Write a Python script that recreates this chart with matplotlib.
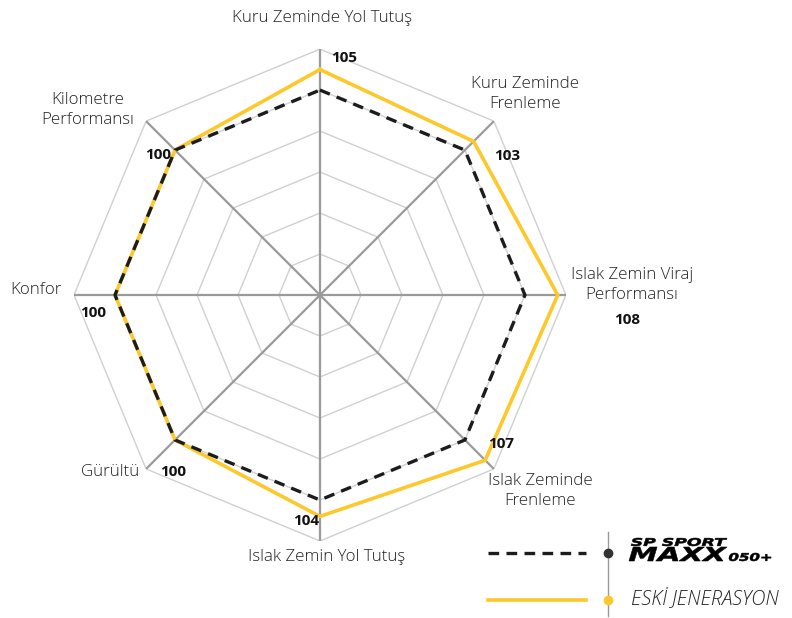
import numpy as np
import matplotlib
matplotlib.use("Agg")
import matplotlib.pyplot as plt
from matplotlib.textpath import TextPath
from matplotlib.font_manager import FontProperties
from matplotlib.patches import PathPatch
from matplotlib.transforms import Affine2D

# categories clockwise from the top
categories = ["Kuru Zeminde Yol Tutuş", "Kuru Zeminde\nFrenleme",
              "Islak Zemin Viraj\nPerformansı", "Islak Zeminde\nFrenleme",
              "Islak Zemin Yol Tutuş", "Gürültü", "Konfor",
              "Kilometre\nPerformansı"]
new_values = [100, 100, 100, 100, 100, 100, 100, 100]
old_values = [105, 103, 108, 107, 104, 100, 100, 100]
value_labels = ["105", "103", "108", "107", "104", "100", "100", "100"]
rings = [60, 70, 80, 90, 100, 110]

# label offsets from each outer vertex, in pixels
cat_offsets = [(2, 31), (31, 27), (66, 10), (46, -22), (7, -16), (-36, -3), (-38, 5), (-58, 11)]
val_offsets = [(24, -9), (13, -35), (61, -25), (7, 25), (-14, 20), (27, -3), (19, -18), (12, -34)]

YELLOW = "#fdc82b"
DARK = "#1c1c1c"

plt.rcParams['font.family'] = ['Open Sans', 'DejaVu Sans']

fig = plt.figure(figsize=(7.92, 6.18), dpi=100)
ax = fig.add_axes([0.0934, 0.1246, 0.6212, 0.796], projection='polar')
ax.set_theta_zero_location('N')
ax.set_theta_direction(-1)
ax.set_ylim(50, 110)
ax.axis('off')

n = len(categories)
theta = np.linspace(0, 2 * np.pi, n, endpoint=False)
closed = np.append(theta, theta[0])

# octagon rings and spokes
for r in rings:
    ax.plot(closed, [r] * (n + 1), color="#d0d0d0", lw=1.0, zorder=1)
for t in theta:
    ax.plot([t, t], [50, 110], color="#9a9a9a", lw=1.6, zorder=2)

# series
ax.plot(closed, np.append(old_values, old_values[0]), color=YELLOW, lw=2.6, zorder=3,
        solid_joinstyle='miter')
ax.plot(closed, np.append(new_values, new_values[0]), color=DARK, lw=2.4, zorder=4,
        dashes=(3.2, 2.2))

# labels
for t, lab, off in zip(theta, categories, cat_offsets):
    ax.annotate(lab, xy=(t, 110), xytext=off, textcoords='offset pixels',
                ha='center', va='center', fontsize=12.2, fontweight='light',
                color="#222222", linespacing=1.3, annotation_clip=False)
for t, lab, off in zip(theta, value_labels, val_offsets):
    ax.annotate(lab, xy=(t, 110), xytext=off, textcoords='offset pixels',
                ha='center', va='center', fontsize=11, fontweight='bold',
                color="#111111", annotation_clip=False)

# legend drawn in pixel space
lg = fig.add_axes([0, 0, 1, 1])
lg.set_xlim(0, 792)
lg.set_ylim(618, 0)
lg.axis('off')
lg.plot([608, 608], [532, 616], color="#9a9a9a", lw=1.0)
lg.plot([488, 586], [553, 553], color=DARK, lw=2.4, dashes=(3.2, 2.2))
lg.plot([488, 586], [600, 600], color=YELLOW, lw=2.6)
lg.plot([608], [553], 'o', color="#333333", ms=6)
lg.plot([608], [600], 'o', color=YELLOW, ms=6)


def logo_text(s, x0, x1, top, bottom, weight='bold'):
    # stretched italic lettering fitted to a pixel box
    fp = FontProperties(family='DejaVu Sans', weight=weight, style='oblique')
    tp = TextPath((0, 0), s, size=1, prop=fp)
    ext = tp.get_extents()
    sx = (x1 - x0) / ext.width
    sy = (bottom - top) / ext.height
    tr = Affine2D().translate(-ext.x0, -ext.y0).scale(sx, -sy).translate(x0, bottom)
    lg.add_patch(PathPatch(tr.transform_path(tp), fc="black", ec="black", lw=0.4))


logo_text("SP SPORT", 631, 727, 538, 546)
logo_text("MAXX", 629, 727, 547, 561)
logo_text("050+", 729, 771, 553, 561)

lg.text(631, 599, "ESKİ JENERASYON", fontsize=14.3, style='italic', fontweight='light',
        color="#222222", va='center', ha='left')

fig.savefig("out.png", dpi=100)
